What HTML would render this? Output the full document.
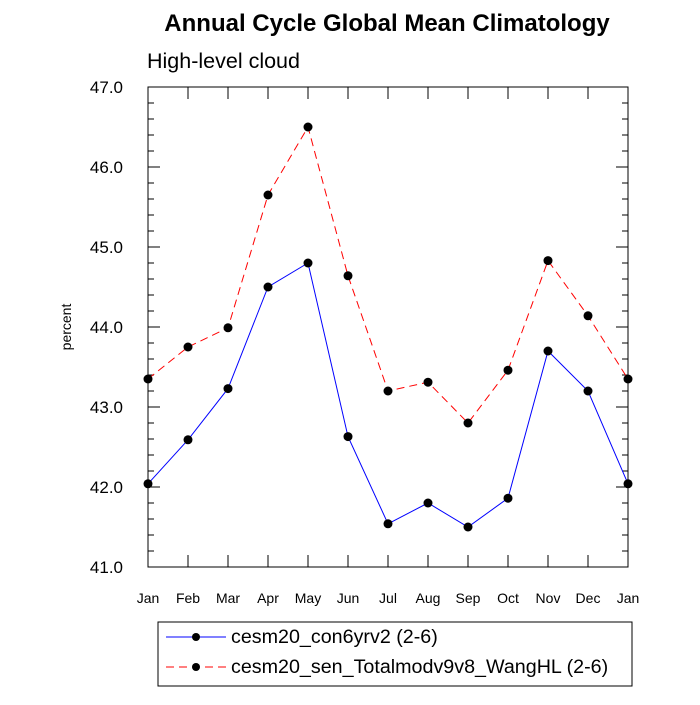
<!DOCTYPE html>
<html><head><meta charset="utf-8"><style>
body{margin:0;background:#fff;}
svg{font-family:"Liberation Sans",sans-serif;}
</style></head><body>
<svg id="c" width="700" height="700">
<text x="387" y="31" text-anchor="middle" font-size="24" font-weight="bold">Annual Cycle Global Mean Climatology</text>
<text x="147" y="68" font-size="21.5">High-level cloud</text>
<text transform="translate(71,327) rotate(-90)" text-anchor="middle" font-size="14">percent</text>
<g id="axes"></g><g id="series"></g>
<rect x="158" y="622" width="474" height="64" fill="none" stroke="#000"/>
<g>
<line x1="166" y1="637" x2="226" y2="637" stroke="#00f"/><circle cx="196" cy="637" r="4"/>
<text x="231" y="643" font-size="19.7">cesm20_con6yrv2 (2-6)</text></g>
<g>
<line x1="166" y1="667" x2="226" y2="667" stroke="#f00" stroke-dasharray="8,5"/><circle cx="196" cy="667" r="4"/>
<text x="231" y="673" font-size="19.7">cesm20_sen_Totalmodv9v8_WangHL (2-6)</text></g>
</svg>
<script>
const months=["Jan","Feb","Mar","Apr","May","Jun","Jul","Aug","Sep","Oct","Nov","Dec","Jan"];
const controlValues=[42.04,42.59,43.23,44.5,44.8,42.63,41.54,41.8,41.5,41.86,43.7,43.2,42.04];
const sensValues=[43.35,43.75,43.99,45.65,46.5,44.64,43.2,43.31,42.8,43.46,44.83,44.14,43.35];
const yTicks=[41,42,43,44,45,46,47];
const yTickLabels=["41.0","42.0","43.0","44.0","45.0","46.0","47.0"];
const X0=148,X1=628,Y0=87,Y1=567,YMIN=41,YMAX=47;
const xs=i=>X0+(X1-X0)*i/(months.length-1);
const ys=v=>Y1-(v-YMIN)/(YMAX-YMIN)*(Y1-Y0);
const NS="http://www.w3.org/2000/svg";
const ax=document.getElementById('axes'),se=document.getElementById('series');
function mk(t,a,p){const e=document.createElementNS(NS,t);for(const k in a)e.setAttribute(k,a[k]);p.appendChild(e);return e;}
let fr=mk('rect',{x:X0,y:Y0,width:X1-X0,height:Y1-Y0,fill:'none',stroke:'#000'},ax);


for(let v=YMIN;v<=YMAX+1e-9;v+=0.2){
 const y=ys(v),maj=Math.abs(v-Math.round(v))<1e-6,L=maj?12:6;
 mk('line',{x1:X0,y1:y,x2:X0+L,y2:y,stroke:'#000'},ax);
 mk('line',{x1:X1,y1:y,x2:X1-L,y2:y,stroke:'#000'},ax);
}
yTicks.forEach((v,i)=>{
 const t=mk('text',{x:X0-25,y:ys(v)+6,'text-anchor':'end','font-size':'17'},ax);t.textContent=yTickLabels[i];
 
 
});
months.forEach((m,i)=>{
 const x=xs(i);
 mk('line',{x1:x,y1:Y1,x2:x,y2:Y1-12,stroke:'#000'},ax);
 mk('line',{x1:x,y1:Y0,x2:x,y2:Y0+12,stroke:'#000'},ax);
 const t=mk('text',{x:x,y:Y1+36,'text-anchor':'middle','font-size':'14'},ax);t.textContent=m;
 
 
});
function draw(vals,col,dash,name){
 const g=mk('g',{},se);
 
 
 const pts=vals.map((v,i)=>xs(i)+','+ys(v)).join(' ');
 const a={points:pts,fill:'none',stroke:col};if(dash)a['stroke-dasharray']=dash;
 mk('polyline',a,g);
 vals.forEach((v,i)=>{const c=mk('circle',{cx:xs(i),cy:ys(v),r:4.5},g);
  
  });
}
draw(controlValues,'#00f',null,'series-control');
draw(sensValues,'#f00','8,5','series-sensitivity');
</script>
</body></html>
